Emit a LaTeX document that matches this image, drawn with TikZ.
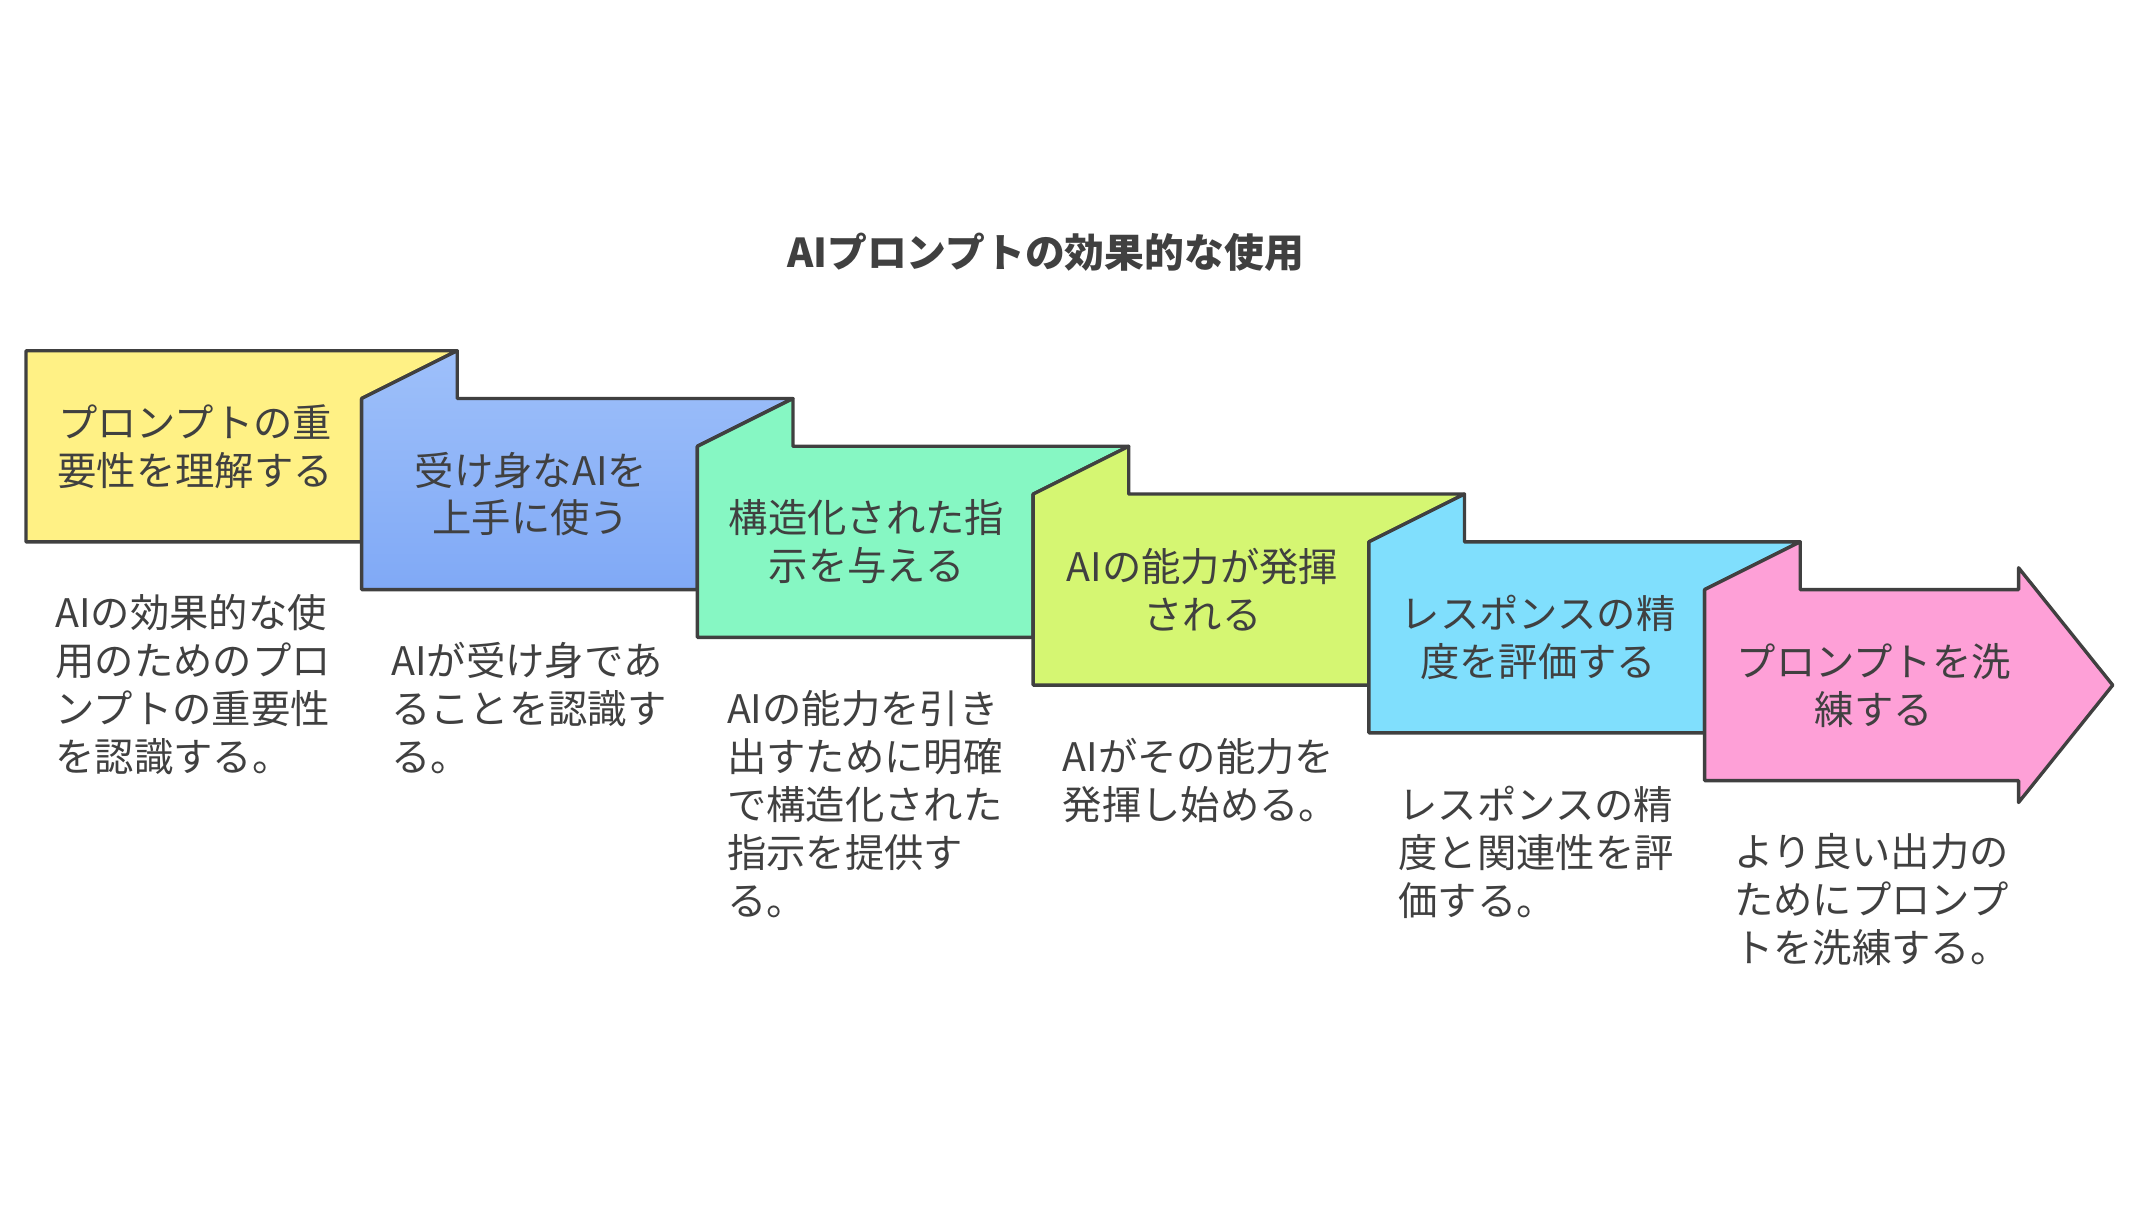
\documentclass[tikz,border=0pt]{standalone}
\usepackage{fontspec}
\setmainfont{Noto Sans CJK JP}
\usetikzlibrary{%
    calc,
    positioning
}
\definecolor{inkgray}{HTML}{404040}
\definecolor{stepyellow}{HTML}{FFF185}
\definecolor{stepblue}{HTML}{9EC0FA}
\definecolor{stepbluelow}{HTML}{80A9F6}
\definecolor{stepgreen}{HTML}{86F7C3}
\definecolor{steplime}{HTML}{D5F672}
\definecolor{stepcyan}{HTML}{80DFFD}
\definecolor{steppink}{HTML}{FEA0D7}
\tikzset{
    fold/.style = {draw=inkgray, line width=.7pt, line join=round},
    steplabel/.style = {align=center, inner sep=0pt, text=inkgray,
        font=\fontsize{8.2}{10}\selectfont},
    stepnote/.style = {align=left, anchor=north west, inner sep=0pt, text=inkgray,
        font=\fontsize{8.2}{10}\selectfont}
}

\begin{document}
\begin{tikzpicture}
    \useasboundingbox (0,0) rectangle (15.68,-8.84);
    \node[text=inkgray, font=\bfseries\fontsize{8.3}{10}\selectfont] (title) at (7.66,-1.85) {AIプロンプトの効果的な使用};

    % top left corner of each step
    \foreach \i in {1,...,6}
        \coordinate (c-\i) at ({0.19+2.46*(\i-1)},{-2.57-0.35*(\i-1)});

    \draw[fold, fill=stepyellow] (c-1) -- ++(3.16,0) -- ++(-0.70,-0.35) -- ++(0,-1.05) -- ++(-2.46,0) -- cycle;
    \draw[fold, top color=stepblue, bottom color=stepbluelow] (c-2) -- ++(0.70,0.35) -- ++(0,-0.35) -- ++(2.46,0) -- ++(-0.70,-0.35) -- ++(0,-1.05) -- ++(-2.46,0) -- cycle;
    \draw[fold, fill=stepgreen] (c-3) -- ++(0.70,0.35) -- ++(0,-0.35) -- ++(2.46,0) -- ++(-0.70,-0.35) -- ++(0,-1.05) -- ++(-2.46,0) -- cycle;
    \draw[fold, fill=steplime] (c-4) -- ++(0.70,0.35) -- ++(0,-0.35) -- ++(2.46,0) -- ++(-0.70,-0.35) -- ++(0,-1.05) -- ++(-2.46,0) -- cycle;
    \draw[fold, fill=stepcyan] (c-5) -- ++(0.70,0.35) -- ++(0,-0.35) -- ++(2.46,0) -- ++(-0.70,-0.35) -- ++(0,-1.05) -- ++(-2.46,0) -- cycle;
    \draw[fold, fill=steppink] (c-6) -- ++(0.70,0.35) -- ++(0,-0.35) -- ++(1.60,0) -- ++(0,0.16) -- ++(0.69,-0.86) -- ++(-0.69,-0.86) -- ++(0,0.16) -- ++(-2.30,0) -- cycle;

    \foreach \i/\lbl in {1/{プロンプトの重\\要性を理解する},
                         2/{受け身なAIを\\上手に使う},
                         3/{構造化された指\\示を与える},
                         4/{AIの能力が発揮\\される},
                         5/{レスポンスの精\\度を評価する},
                         6/{プロンプトを洗\\練する}}
        \node[steplabel] (lbl-\i) at ($(c-\i)+(1.24,-0.70)$) {\lbl};

    \foreach \i/\note in {1/{AIの効果的な使\\用のためのプロ\\ンプトの重要性\\を認識する。},
                          2/{AIが受け身であ\\ることを認識す\\る。},
                          3/{AIの能力を引き\\出すために明確\\で構造化された\\指示を提供す\\る。},
                          4/{AIがその能力を\\発揮し始める。},
                          5/{レスポンスの精\\度と関連性を評\\価する。},
                          6/{より良い出力の\\ためにプロンプ\\トを洗練する。}}
        \node[stepnote] (note-\i) at ($(c-\i)+(0.21,-1.78)$) {\note};
\end{tikzpicture}
\end{document}
